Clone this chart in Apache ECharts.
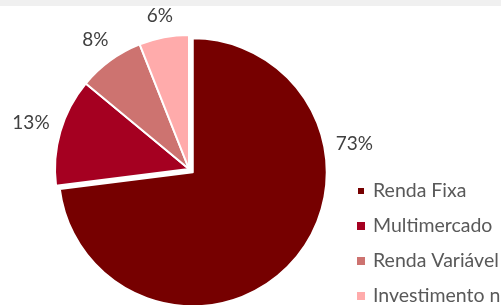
<!DOCTYPE html>
<html>
<head>
<meta charset="utf-8">
<script src="https://cdn.jsdelivr.net/npm/echarts@6/dist/echarts.min.js"></script>
<style>
  html, body { margin: 0; padding: 0; background: #fff; }
  #chart-root { width: 501px; height: 305px; }
</style>
</head>
<body>
<div id="chart-root"></div>
<script>
// dados da carteira
var categorias = ["Renda Fixa", "Multimercado", "Renda Variável", "Investimento no Exterior"];
var percentuais = [73, 13, 8, 6];
var cores = ["#760000", "#A50021", "#CD7370", "#FFABAB"];

var centro = [189, 169];
var raio = 134;
var destaque = 5; // fatia da Renda Fixa levemente destacada
var total = percentuais.reduce(function (a, b) { return a + b; }, 0);

function anguloMedio(i) {
  var antes = 0;
  for (var k = 0; k < i; k++) antes += percentuais[k];
  return (antes + percentuais[i] / 2) / total * 360;
}

// centro deslocado da fatia destacada
var radFixa = anguloMedio(0) * Math.PI / 180;
var centroFixa = [
  centro[0] + destaque * Math.sin(radFixa),
  centro[1] - destaque * Math.cos(radFixa)
];

function posRotulo(i, c0, rect) {
  // rótulo da maior fatia fica à direita, como no Excel
  var ang = i === 0 ? 80 : anguloMedio(i);
  var rad = ang * Math.PI / 180;
  var s = Math.sin(rad), c = Math.cos(rad);
  var dist = raio + 10 + Math.abs(s) * rect.width / 2 + Math.abs(c) * rect.height / 2;
  return {
    x: c0[0] + dist * s,
    y: c0[1] - dist * c,
    align: "center",
    verticalAlign: "middle"
  };
}

function serie(mostrar, c0) {
  return {
    type: "pie",
    center: c0,
    radius: raio,
    startAngle: 90,
    clockwise: true,
    silent: true,
    emphasis: { disabled: true },
    itemStyle: { borderColor: "#fff", borderWidth: 2 },
    label: {
      show: true,
      position: "outside",
      formatter: "{c}%",
      fontFamily: "Lato",
      fontSize: 19,
      color: "#404040"
    },
    labelLine: { show: false, length: 4, length2: 0 },
    labelLayout: function (params) {
      return posRotulo(params.dataIndex, c0, params.labelRect);
    },
    data: categorias.map(function (nome, i) {
      var visivel = mostrar(i);
      return {
        name: nome,
        value: percentuais[i],
        itemStyle: visivel
          ? { color: cores[i] }
          : { color: "rgba(0,0,0,0)", borderColor: "rgba(0,0,0,0)" },
        label: { show: visivel }
      };
    })
  };
}

var chart = echarts.init(document.getElementById("chart-root"));

var option = {
  animation: false,
  textStyle: { fontFamily: "Lato" },
  graphic: [
    {
      type: "rect",
      left: 0,
      top: 0,
      silent: true,
      shape: { width: 501, height: 6 },
      style: { fill: "#f0f0f0" }
    }
  ],
  legend: {
    orient: "vertical",
    left: 356,
    top: 181,
    height: 200,
    padding: 0,
    itemWidth: 8,
    itemHeight: 8,
    itemGap: 15,
    icon: "rect",
    selectedMode: false,
    data: categorias.map(function (nome, i) {
      return { name: nome, itemStyle: { color: cores[i] } };
    }),
    textStyle: {
      fontFamily: "Lato",
      fontSize: 19.5,
      lineHeight: 19,
      color: "#595959",
      padding: [0, 0, 0, 3]
    }
  },
  series: [
    serie(function (i) { return i === 0; }, centroFixa),
    serie(function (i) { return i !== 0; }, centro)
  ]
};

chart.setOption(option);
</script>
</body>
</html>
